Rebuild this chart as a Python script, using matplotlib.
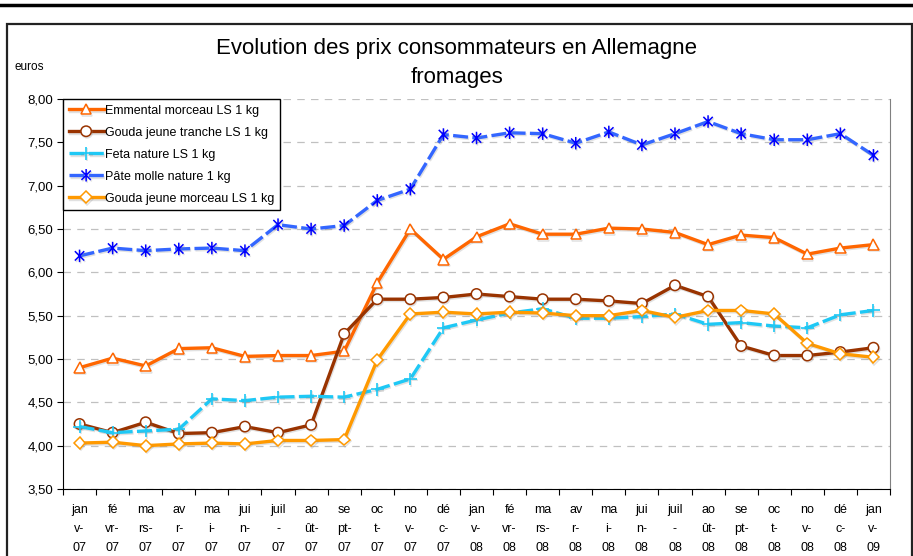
import matplotlib
matplotlib.use('Agg')
import matplotlib.pyplot as plt
import matplotlib.patches as mpatches
import matplotlib.patheffects as pe
from matplotlib.lines import Line2D
from matplotlib.path import Path

plt.rcParams['font.family'] = ['Liberation Sans', 'DejaVu Sans']

# mois (libellés coupés sur trois lignes comme dans Excel)
mois = ['jan\nv-\n07', 'fé\nvr-\n07', 'ma\nrs-\n07', 'av\nr-\n07', 'ma\ni-\n07', 'jui\nn-\n07',
        'juil\n-\n07', 'ao\nût-\n07', 'se\npt-\n07', 'oc\nt-\n07', 'no\nv-\n07', 'dé\nc-\n07',
        'jan\nv-\n08', 'fé\nvr-\n08', 'ma\nrs-\n08', 'av\nr-\n08', 'ma\ni-\n08', 'jui\nn-\n08',
        'juil\n-\n08', 'ao\nût-\n08', 'se\npt-\n08', 'oc\nt-\n08', 'no\nv-\n08', 'dé\nc-\n08',
        'jan\nv-\n09']

emmental = [4.90, 5.01, 4.92, 5.12, 5.13, 5.03, 5.04, 5.04, 5.09, 5.88, 6.50, 6.15,
            6.41, 6.56, 6.44, 6.44, 6.51, 6.50, 6.46, 6.32, 6.43, 6.40, 6.21, 6.28, 6.32]
gouda_tranche = [4.25, 4.15, 4.27, 4.14, 4.15, 4.22, 4.15, 4.24, 5.29, 5.69, 5.69, 5.71,
                 5.75, 5.72, 5.69, 5.69, 5.67, 5.64, 5.85, 5.72, 5.15, 5.04, 5.04, 5.08, 5.13]
feta = [4.22, 4.15, 4.17, 4.19, 4.54, 4.52, 4.56, 4.57, 4.56, 4.65, 4.77, 5.36,
        5.45, 5.53, 5.58, 5.47, 5.47, 5.49, 5.52, 5.40, 5.42, 5.38, 5.36, 5.51, 5.56]
pate_molle = [6.19, 6.28, 6.25, 6.27, 6.28, 6.25, 6.55, 6.50, 6.54, 6.83, 6.96, 7.59,
              7.55, 7.61, 7.60, 7.49, 7.62, 7.47, 7.60, 7.74, 7.60, 7.53, 7.53, 7.60, 7.35]
gouda_morceau = [4.03, 4.04, 4.00, 4.02, 4.03, 4.02, 4.06, 4.06, 4.07, 4.99, 5.52, 5.54,
                 5.52, 5.54, 5.53, 5.50, 5.50, 5.56, 5.48, 5.56, 5.56, 5.52, 5.18, 5.06, 5.02]

y_ticks = [3.5, 4.0, 4.5, 5.0, 5.5, 6.0, 6.5, 7.0, 7.5, 8.0]

# marqueur étoile d'Excel (barre verticale + croix)
etoile = Path([(0, -1), (0, 1), (-0.75, -0.75), (0.75, 0.75), (-0.75, 0.75), (0.75, -0.75)],
              [Path.MOVETO, Path.LINETO] * 3)

fig = plt.figure(figsize=(9.13, 5.56), dpi=100)
ax = fig.add_axes([63 / 913, 1 - 489 / 556, 827 / 913, 390 / 556])

x = list(range(len(mois)))
lw = 2.4
ombre = [pe.SimpleLineShadow(offset=(0.7, -1.0), shadow_color='#888888', alpha=0.25), pe.Normal()]

ax.plot(x, emmental, color='#FF6600', lw=lw, marker='^', ms=7.5, mfc='white', mec='#FF6600',
        mew=1.1, label='Emmental morceau LS 1 kg', zorder=3, path_effects=ombre)
ax.plot(x, gouda_tranche, color='#993300', lw=lw, marker='o', ms=7.5, mfc='white', mec='#993300',
        mew=1.1, label='Gouda jeune tranche LS 1 kg', zorder=3, path_effects=ombre)
ax.plot(x, feta, color='#1EC8F5', lw=lw, dashes=(4.5, 1.3), marker='+', ms=9, mec='#1EC8F5',
        mew=1.2, label='Feta nature LS 1 kg', zorder=3, path_effects=ombre)
ax.plot(x, pate_molle, color='#3366FF', lw=lw, dashes=(4.5, 1.3), marker=etoile, ms=9,
        mec='#0000FF', mfc='none', mew=1.1, label='Pâte molle nature 1 kg', zorder=3,
        path_effects=ombre)
ax.plot(x, gouda_morceau, color='#FF9900', lw=lw, marker='D', ms=6, mfc='white', mec='#FF9900',
        mew=1.1, label='Gouda jeune morceau LS 1 kg', zorder=3, path_effects=ombre)

ax.set_xlim(-0.5, len(mois) - 0.5)
ax.set_ylim(3.5, 8.0)
ax.set_yticks(y_ticks)
ax.set_yticklabels([f'{v:.2f}'.replace('.', ',') for v in y_ticks], fontsize=9.5)
ax.set_xticks(x)
ax.set_xticklabels(mois, fontsize=9, linespacing=1.75)
ax.set_xticks([i - 0.5 for i in range(len(mois) + 1)], minor=True)
ax.tick_params(axis='x', which='major', length=0, pad=11)
ax.tick_params(axis='x', which='minor', length=4, direction='out', width=0.8)
ax.tick_params(axis='y', length=4, direction='out', width=0.8, pad=3)

ax.grid(axis='y', color='#C0C0C0', linestyle=(0, (6, 5)), lw=0.9, zorder=0)
ax.spines['top'].set_visible(False)
ax.spines['right'].set_color('#808080')
ax.spines['left'].set_color('black')
ax.spines['bottom'].set_color('black')

leg = ax.legend(loc='upper left', bbox_to_anchor=(0, 1), borderaxespad=0, fontsize=9,
                frameon=True, fancybox=False, edgecolor='black', framealpha=1,
                handlelength=2.8, handletextpad=0.1, labelspacing=0.8, borderpad=0.45)
leg.get_frame().set_linewidth(1.0)
leg.set_zorder(5)

fig.text(0.5, 1 - 63 / 556, 'Evolution des prix consommateurs en Allemagne\nfromages',
         ha='center', va='center', fontsize=16, linespacing=1.45)
fig.text(14 / 913, 1 - 67 / 556, 'euros', ha='left', va='center', fontsize=8.5)

# cadre du graphique et trait en haut de page
fig.add_artist(mpatches.Rectangle((7 / 913, -0.05), 905 / 913, 1.05 - 24 / 556,
                                  transform=fig.transFigure, fill=False, edgecolor='#222222', lw=1.6))
fig.add_artist(Line2D([0, 1], [1 - 5 / 556, 1 - 5 / 556], transform=fig.transFigure,
                      color='black', lw=2.5))

fig.savefig('out.png', dpi=100)
